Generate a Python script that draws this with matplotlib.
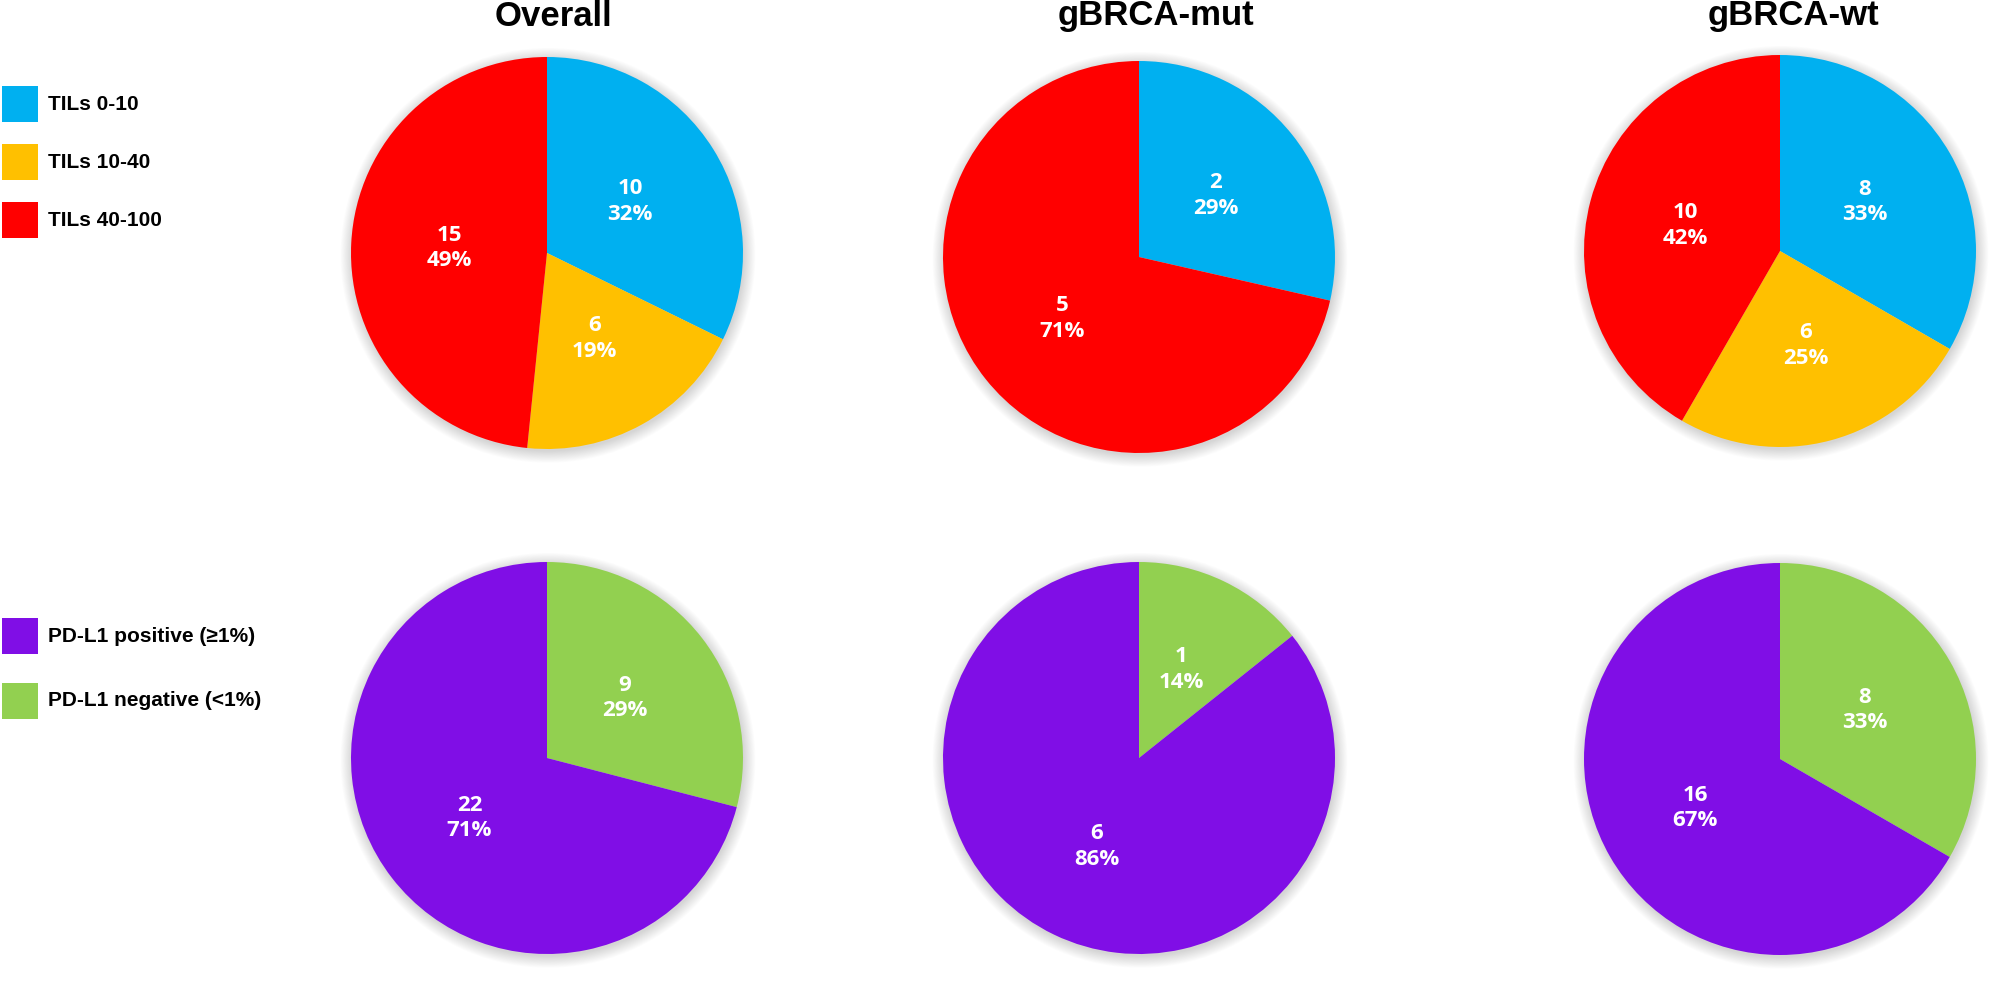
import matplotlib.pyplot as plt
from matplotlib.patches import Circle, Rectangle

# panel titles
groups = ['Overall', 'gBRCA-mut', 'gBRCA-wt']

# TILs categories (top row)
til_labels = ['TILs 0-10', 'TILs 10-40', 'TILs 40-100']
til_colors = ['#00B0F0', '#FFC000', '#FF0000']
til_counts = [[10, 6, 15], [2, 0, 5], [8, 6, 10]]
til_pcts = [[32, 19, 49], [29, 0, 71], [33, 25, 42]]

# PD-L1 categories (bottom row), drawn negative first clockwise from the top
pd_labels = ['PD-L1 positive (\u22651%)', 'PD-L1 negative (<1%)']
pd_colors = ['#800EE6', '#92D050']
pd_counts = [[22, 9], [6, 1], [16, 8]]
pd_pcts = [[71, 29], [86, 14], [67, 33]]

W, H = 2008, 981
fig = plt.figure(figsize=(W / 100, H / 100), dpi=100)
fig.patch.set_facecolor('white')

R = 196
centers_x = [547, 1139, 1780]
top_y = [253, 257, 251]
bot_y = [758, 758, 759]
pad = 1.12


def draw_pie(cx, cy, values, pcts, colors):
    w = 2 * R * pad
    ax = fig.add_axes([(cx - w / 2) / W, (H - cy - w / 2) / H, w / W, w / H])
    ax.set_xlim(-pad, pad)
    ax.set_ylim(-pad, pad)
    ax.set_aspect('equal')
    ax.axis('off')
    # soft shadow round the pie
    for i in range(14):
        ax.add_patch(Circle((0.005, -0.012), 1 + 0.0045 * i, color='#000000',
                            alpha=0.010, lw=0, zorder=0))
    vals, labs, cols = [], [], []
    for v, p, c in zip(values, pcts, colors):
        if v == 0:
            continue
        vals.append(v)
        labs.append('{}\n{}%'.format(v, p))
        cols.append(c)
    wedges, texts = ax.pie(vals, colors=cols, labels=labs, startangle=90,
                           counterclock=False, labeldistance=0.5, radius=1,
                           wedgeprops=dict(linewidth=0),
                           textprops=dict(color='white', fontsize=16,
                                          fontweight='bold', family='Open Sans',
                                          ha='center', va='center',
                                          linespacing=1.3))
    for w_ in wedges:
        w_.set_zorder(2)
    for t in texts:
        t.set_zorder(3)
    ax.set_xlim(-pad, pad)
    ax.set_ylim(-pad, pad)


for i in range(3):
    draw_pie(centers_x[i], top_y[i], til_counts[i], til_pcts[i], til_colors)
    # bottom row: negative (green) first, then positive (purple)
    draw_pie(centers_x[i], bot_y[i], pd_counts[i][::-1], pd_pcts[i][::-1], pd_colors[::-1])

# titles
title_x = [554, 1156, 1793]
for g, tx in zip(groups, title_x):
    fig.text(tx / W, (H - 16) / H, g, ha='center', va='center', fontsize=25,
             fontweight='bold', family='Liberation Sans')

# legends
def legend_item(y, color, label):
    fig.add_artist(Rectangle((2 / W, (H - y - 18) / H), 36 / W, 36 / H,
                             transform=fig.transFigure, color=color, lw=0))
    fig.text(48 / W, (H - y) / H, label, ha='left', va='center', fontsize=15,
             fontweight='bold', family='Liberation Sans')


for y, c, l in zip([104, 162, 220], til_colors, til_labels):
    legend_item(y, c, l)
for y, c, l in zip([636, 701], pd_colors, pd_labels):
    legend_item(y, c, l)

fig.savefig('out.png', dpi=100, facecolor='white')
